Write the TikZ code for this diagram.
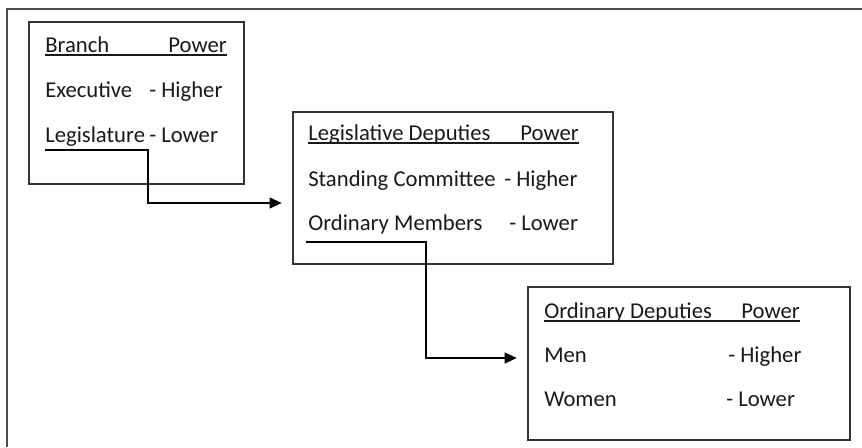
\documentclass[tikz,border=0pt]{standalone}
\usepackage{fontspec}
\setmainfont{Carlito}
\usetikzlibrary{arrows.meta,positioning,fit}

\begin{document}
\begin{tikzpicture}[x=0.75pt, y=-0.75pt,
  box/.style={draw=black!80, line width=0.9pt, inner sep=0pt},
  txt/.style={anchor=base west, inner sep=0pt, font=\fontsize{17}{20}\selectfont, text=black!90},
  rtxt/.style={txt, anchor=base east},
  uline/.style={black!90, line width=1.1pt},
  link/.style={black, line width=1.4pt, -{Triangle[length=9pt,width=8pt]}, shorten >=8pt}]
\useasboundingbox (0,0) rectangle (862,447);
% outer frame
\draw[black!70, line width=1.5pt] (862,9) -| (7,447);

% branch box
\node[box, fit={(29,22) (244,184)}] (b1) {};
\node[txt] (h1a) at (45,52) {Branch};
\node[rtxt] (h1b) at (227,52) {Power};
\draw[uline] ([yshift=-2.3pt]h1a.base west) -- ([yshift=-2.3pt]h1b.base east);
\node[txt] (exe) at (45,97) {Executive};
\node[txt] (exeP) at (149,97) {- Higher};
\node[txt] (leg) at (45,142) {Legislature};
\node[txt] (legP) at (149,142) {- Lower};

% deputies box
\node[box, fit={(293,112) (613,264)}] (b2) {};
\node[txt] (h2a) at (308,140) {Legislative Deputies};
\node[rtxt] (h2b) at (579,140) {Power};
\draw[uline] ([yshift=-2.3pt]h2a.base west) -- ([yshift=-2.3pt]h2b.base east);
\node[txt] (stc) at (308,186) {Standing Committee};
\node[txt] (stcP) at (504,186) {- Higher};
\node[txt] (ord) at (308,230) {Ordinary Members};
\node[txt] (ordP) at (509,230) {- Lower};

% ordinary deputies box
\node[box, fit={(528,287) (850,440)}] (b3) {};
\node[txt] (h3a) at (544,318) {Ordinary Deputies};
\node[rtxt] (h3b) at (800,318) {Power};
\draw[uline] ([yshift=-2.3pt]h3a.base west) -- ([yshift=-2.3pt]h3b.base east);
\node[txt] (men) at (544,362) {Men};
\node[txt] (menP) at (728,362) {- Higher};
\node[txt] (wom) at (544,406) {Women};
\node[txt] (womP) at (726,406) {- Lower};

% connectors
\coordinate (s1) at (45,150);
\coordinate (k1) at (148,203);
\draw[link] (s1) -| (k1) -- (k1 -| b2.west);
\coordinate (s2) at (306,242);
\coordinate (k2) at (426,358);
\draw[link] (s2) -| (k2) -- (k2 -| b3.west);
\end{tikzpicture}
\end{document}
